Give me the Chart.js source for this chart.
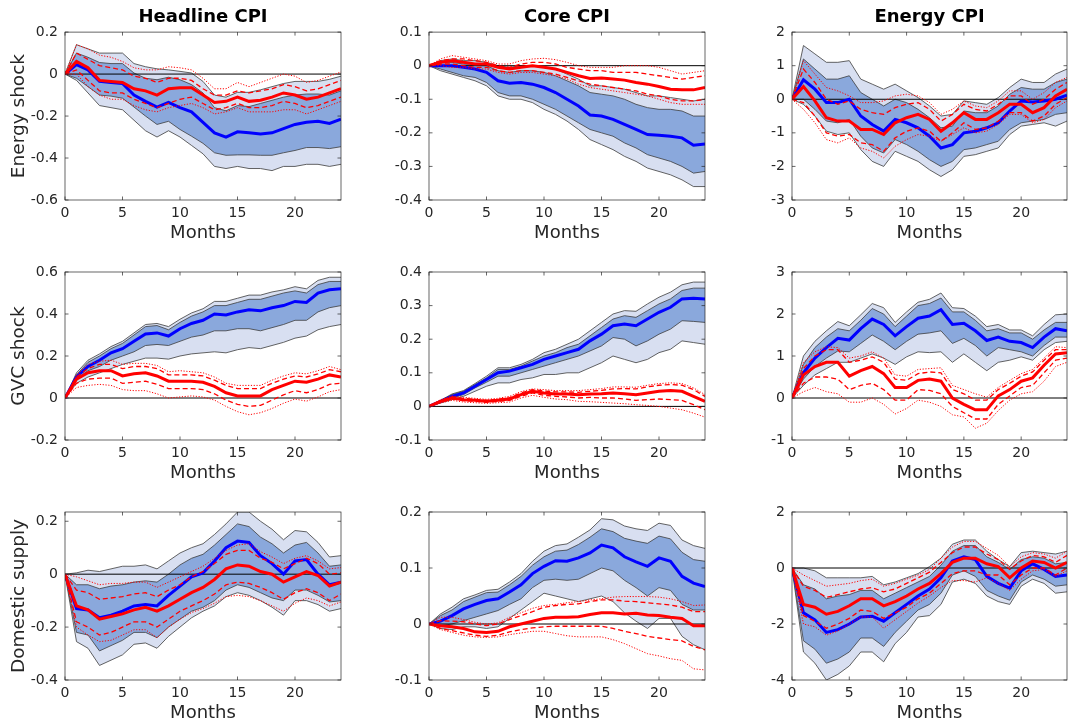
<!DOCTYPE html>
<html>
<head>
<meta charset="utf-8">
<script src="https://cdn.jsdelivr.net/npm/chart.js@4.4.0/dist/chart.umd.min.js"></script>
<style>
  html, body { margin: 0; padding: 0; background: #fff; }
  #wrap { position: relative; width: 1068px; height: 724px; overflow: hidden; }
  #wrap canvas { position: absolute; }
</style>
</head>
<body>
<div id="wrap"></div>
<script>
// Impulse responses, months 0..24
const months = [0,1,2,3,4,5,6,7,8,9,10,11,12,13,14,15,16,17,18,19,20,21,22,23,24];
const colTitles = ['Headline CPI', 'Core CPI', 'Energy CPI'];
const rowTitles = ['Energy shock', 'GVC shock', 'Domestic supply'];

// --- Energy shock / Headline CPI
const enHeadOutHi = [0,0.14,0.12,0.10,0.10,0.10,0.05,0.035,0.025,0.02,0.013,0.005,-0.035,-0.1,-0.11,-0.087,-0.087,-0.075,-0.06,-0.045,-0.035,-0.035,-0.035,-0.025,-0.01];
const enHeadInHi = [0,0.1,0.08,0.055,0.05,0.05,0.005,-0.02,-0.027,-0.015,-0.027,-0.05,-0.09,-0.16,-0.175,-0.15,-0.155,-0.14,-0.125,-0.11,-0.1,-0.095,-0.095,-0.1,-0.08];
const enHeadInLo = [0,-0.02,-0.06,-0.1,-0.105,-0.115,-0.157,-0.2,-0.24,-0.225,-0.264,-0.296,-0.33,-0.375,-0.387,-0.385,-0.385,-0.387,-0.387,-0.375,-0.364,-0.35,-0.35,-0.355,-0.346];
const enHeadOutLo = [0,-0.03,-0.09,-0.15,-0.16,-0.17,-0.22,-0.27,-0.3,-0.27,-0.3,-0.34,-0.38,-0.44,-0.45,-0.44,-0.45,-0.45,-0.46,-0.44,-0.44,-0.43,-0.43,-0.44,-0.43];
const enHeadBlue = [0,0.045,0.02,-0.035,-0.04,-0.045,-0.1,-0.13,-0.157,-0.135,-0.16,-0.18,-0.23,-0.28,-0.3,-0.275,-0.28,-0.285,-0.28,-0.26,-0.24,-0.23,-0.225,-0.235,-0.215];
const enHeadRed = [0,0.06,0.03,-0.03,-0.035,-0.04,-0.07,-0.08,-0.1,-0.07,-0.065,-0.065,-0.1,-0.135,-0.13,-0.11,-0.13,-0.125,-0.11,-0.09,-0.1,-0.12,-0.11,-0.09,-0.07];
const enHeadDashHi = [0,0.1,0.07,0.04,0.03,0.02,-0.01,-0.02,-0.04,-0.02,-0.02,-0.03,-0.07,-0.1,-0.1,-0.08,-0.09,-0.08,-0.07,-0.05,-0.06,-0.08,-0.07,-0.05,-0.03];
const enHeadDashLo = [0,0.02,-0.03,-0.08,-0.09,-0.09,-0.12,-0.14,-0.16,-0.14,-0.12,-0.11,-0.14,-0.17,-0.16,-0.14,-0.16,-0.16,-0.15,-0.13,-0.14,-0.16,-0.15,-0.13,-0.11];
const enHeadDotHi = [0,0.14,0.12,0.09,0.08,0.06,0.03,0.02,0.02,0.035,0.03,0.02,-0.02,-0.07,-0.07,-0.04,-0.06,-0.04,-0.02,0.0,-0.01,-0.04,-0.03,-0.01,0.01];
const enHeadDotLo = [0,0.0,-0.06,-0.1,-0.12,-0.12,-0.15,-0.17,-0.18,-0.16,-0.15,-0.14,-0.16,-0.19,-0.18,-0.16,-0.18,-0.18,-0.18,-0.17,-0.17,-0.19,-0.17,-0.15,-0.13];

// --- Energy shock / Core CPI
const enCoreOutHi = [0,0.015,0.02,0.015,0.015,0.01,0.0,-0.005,0.0,0.0,-0.005,-0.01,-0.025,-0.04,-0.06,-0.06,-0.065,-0.07,-0.08,-0.09,-0.09,-0.095,-0.1,-0.105,-0.1];
const enCoreInHi = [0,0.01,0.01,0.005,0.005,0.0,-0.015,-0.02,-0.015,-0.015,-0.02,-0.03,-0.045,-0.06,-0.08,-0.085,-0.09,-0.1,-0.115,-0.125,-0.13,-0.13,-0.135,-0.15,-0.15];
const enCoreInLo = [0,-0.01,-0.02,-0.03,-0.035,-0.05,-0.08,-0.09,-0.09,-0.1,-0.115,-0.13,-0.15,-0.17,-0.19,-0.2,-0.21,-0.23,-0.245,-0.265,-0.275,-0.285,-0.3,-0.32,-0.315];
const enCoreOutLo = [0,-0.015,-0.025,-0.035,-0.045,-0.06,-0.09,-0.1,-0.1,-0.11,-0.13,-0.145,-0.165,-0.19,-0.22,-0.235,-0.25,-0.27,-0.285,-0.305,-0.315,-0.325,-0.34,-0.36,-0.36];
const enCoreBlue = [0,0,0,-0.005,-0.01,-0.02,-0.045,-0.052,-0.05,-0.055,-0.065,-0.08,-0.1,-0.12,-0.147,-0.15,-0.16,-0.175,-0.19,-0.205,-0.207,-0.21,-0.215,-0.237,-0.233];
const enCoreRed = [0,0.01,0.015,0.01,0.005,0.005,-0.005,-0.01,-0.005,0.0,-0.005,-0.01,-0.02,-0.03,-0.038,-0.037,-0.04,-0.043,-0.05,-0.055,-0.062,-0.07,-0.072,-0.072,-0.065];
const enCoreDashHi = [0,0.015,0.02,0.02,0.015,0.01,0.0,-0.005,0.005,0.01,0.01,0.005,-0.005,-0.01,-0.015,-0.015,-0.02,-0.02,-0.02,-0.025,-0.03,-0.035,-0.04,-0.035,-0.03];
const enCoreDashLo = [0,0.005,0.005,0.0,-0.005,-0.005,-0.015,-0.02,-0.015,-0.015,-0.02,-0.025,-0.035,-0.045,-0.055,-0.06,-0.065,-0.07,-0.075,-0.085,-0.09,-0.1,-0.105,-0.105,-0.1];
const enCoreDotHi = [0,0.02,0.03,0.025,0.02,0.015,0.005,0.005,0.015,0.02,0.022,0.018,0.01,0.0,-0.005,-0.005,-0.005,0.0,0.0,0.0,-0.005,-0.015,-0.025,-0.02,-0.015];
const enCoreDotLo = [0,0.0,-0.005,-0.005,-0.01,-0.01,-0.02,-0.025,-0.02,-0.02,-0.025,-0.03,-0.04,-0.055,-0.065,-0.07,-0.075,-0.08,-0.085,-0.09,-0.1,-0.11,-0.115,-0.115,-0.115];

// --- Energy shock / Energy CPI
const enEnerOutHi = [0,1.6,1.35,1.1,1.1,1.15,0.6,0.45,0.3,0.45,0.25,0.05,-0.2,-0.5,-0.45,-0.05,-0.1,-0.15,0.05,0.35,0.6,0.5,0.5,0.75,0.9];
const enEnerInHi = [0,1.2,0.9,0.6,0.6,0.7,0.2,0.0,-0.2,0.0,-0.1,-0.3,-0.55,-0.85,-0.8,-0.35,-0.4,-0.4,-0.2,0.15,0.35,0.3,0.3,0.5,0.6];
const enEnerInLo = [0,0.0,-0.3,-0.65,-0.7,-0.6,-1.1,-1.45,-1.6,-1.2,-1.35,-1.55,-1.8,-2.0,-1.85,-1.5,-1.45,-1.35,-1.25,-0.9,-0.7,-0.65,-0.6,-0.45,-0.4];
const enEnerOutLo = [0,-0.15,-0.5,-0.95,-1.05,-1.0,-1.5,-1.85,-2.0,-1.55,-1.7,-1.85,-2.1,-2.3,-2.1,-1.7,-1.65,-1.55,-1.45,-1.05,-0.8,-0.75,-0.7,-0.8,-0.65];
const enEnerBlue = [0,0.58,0.3,-0.1,-0.1,0.0,-0.5,-0.75,-0.95,-0.6,-0.7,-0.85,-1.1,-1.45,-1.35,-1.0,-0.95,-0.85,-0.7,-0.35,-0.05,-0.08,-0.05,0.0,0.12];
const enEnerRed = [0,0.38,-0.05,-0.55,-0.65,-0.65,-0.9,-0.9,-1.05,-0.7,-0.55,-0.45,-0.6,-0.95,-0.7,-0.4,-0.6,-0.6,-0.4,-0.15,-0.15,-0.4,-0.25,0.1,0.3];
const enEnerDashHi = [0,0.9,0.5,0.0,-0.15,-0.05,-0.3,-0.4,-0.45,-0.25,-0.15,-0.1,-0.3,-0.65,-0.45,-0.15,-0.3,-0.35,-0.15,0.1,0.1,-0.15,0.0,0.3,0.5];
const enEnerDashLo = [0,-0.1,-0.5,-1.0,-1.1,-1.05,-1.3,-1.35,-1.55,-1.15,-0.95,-0.85,-0.95,-1.25,-1.0,-0.7,-0.9,-0.85,-0.65,-0.4,-0.4,-0.65,-0.5,-0.15,0.05];
const enEnerDotHi = [0,1.15,0.75,0.35,0.25,0.1,-0.1,-0.1,-0.05,0.1,0.15,0.1,-0.1,-0.45,-0.3,-0.05,-0.2,-0.25,-0.05,0.25,0.25,0.0,0.2,0.5,0.65];
const enEnerDotLo = [0,-0.3,-0.7,-1.2,-1.3,-1.15,-1.45,-1.55,-1.75,-1.4,-1.2,-1.05,-1.1,-1.25,-1.05,-0.85,-1.0,-0.95,-0.75,-0.45,-0.45,-0.7,-0.6,-0.25,-0.05];

// --- GVC shock / Headline CPI
const gvHeadOutHi = [0,0.12,0.18,0.21,0.245,0.27,0.31,0.35,0.355,0.34,0.375,0.405,0.425,0.46,0.46,0.475,0.49,0.49,0.505,0.515,0.53,0.52,0.56,0.575,0.575];
const gvHeadInHi = [0,0.11,0.17,0.2,0.235,0.26,0.3,0.34,0.345,0.325,0.36,0.39,0.41,0.44,0.44,0.455,0.47,0.47,0.485,0.5,0.51,0.5,0.54,0.555,0.555];
const gvHeadInLo = [0,0.09,0.13,0.15,0.18,0.2,0.22,0.25,0.255,0.25,0.27,0.29,0.3,0.32,0.32,0.33,0.33,0.32,0.335,0.35,0.37,0.37,0.41,0.43,0.44];
const gvHeadOutLo = [0,0.07,0.1,0.12,0.14,0.16,0.175,0.19,0.19,0.185,0.2,0.21,0.215,0.22,0.215,0.23,0.24,0.235,0.25,0.265,0.285,0.295,0.325,0.34,0.35];
const gvHeadBlue = [0,0.1,0.15,0.18,0.215,0.235,0.27,0.305,0.31,0.295,0.33,0.355,0.37,0.4,0.395,0.41,0.42,0.415,0.43,0.44,0.46,0.455,0.5,0.515,0.52];
const gvHeadRed = [0,0.09,0.12,0.13,0.13,0.105,0.115,0.12,0.105,0.08,0.08,0.08,0.075,0.055,0.025,0.01,0.01,0.01,0.04,0.06,0.08,0.075,0.09,0.11,0.1];
const gvHeadDashHi = [0,0.1,0.14,0.16,0.16,0.14,0.15,0.15,0.14,0.11,0.11,0.11,0.105,0.085,0.06,0.045,0.045,0.045,0.07,0.09,0.105,0.1,0.115,0.135,0.125];
const gvHeadDashLo = [0,0.07,0.09,0.095,0.095,0.07,0.075,0.08,0.065,0.045,0.045,0.045,0.04,0.02,-0.01,-0.03,-0.04,-0.035,-0.01,0.015,0.035,0.025,0.04,0.065,0.07];
const gvHeadDotHi = [0,0.11,0.16,0.175,0.18,0.16,0.165,0.165,0.155,0.125,0.13,0.125,0.12,0.1,0.07,0.06,0.06,0.06,0.085,0.105,0.12,0.115,0.13,0.15,0.135];
const gvHeadDotLo = [0,0.05,0.06,0.065,0.06,0.04,0.035,0.035,0.02,0.0,0.005,0.01,0.005,-0.01,-0.04,-0.065,-0.08,-0.07,-0.05,-0.025,-0.005,-0.015,0.005,0.03,0.04];

// --- GVC shock / Core CPI
const gvCoreOutHi = [0,0.018,0.037,0.047,0.068,0.09,0.115,0.115,0.125,0.14,0.16,0.17,0.185,0.2,0.225,0.25,0.275,0.285,0.283,0.305,0.325,0.34,0.362,0.37,0.37];
const gvCoreInHi = [0,0.017,0.035,0.045,0.065,0.085,0.11,0.11,0.12,0.135,0.15,0.16,0.175,0.185,0.21,0.235,0.26,0.27,0.265,0.285,0.305,0.32,0.345,0.352,0.352];
const gvCoreInLo = [0,0.012,0.025,0.035,0.055,0.072,0.09,0.09,0.1,0.11,0.12,0.13,0.14,0.15,0.165,0.18,0.205,0.2,0.18,0.195,0.215,0.23,0.255,0.253,0.25];
const gvCoreOutLo = [0,0.01,0.02,0.03,0.045,0.06,0.07,0.07,0.08,0.085,0.095,0.095,0.1,0.1,0.115,0.13,0.15,0.14,0.13,0.14,0.16,0.17,0.195,0.19,0.185];
const gvCoreBlue = [0,0.015,0.03,0.04,0.06,0.08,0.1,0.105,0.115,0.125,0.14,0.15,0.16,0.17,0.195,0.215,0.24,0.245,0.24,0.26,0.28,0.295,0.32,0.322,0.32];
const gvCoreRed = [0,0.015,0.025,0.02,0.018,0.015,0.018,0.022,0.035,0.045,0.04,0.037,0.037,0.035,0.037,0.038,0.04,0.038,0.035,0.04,0.045,0.047,0.045,0.03,0.015];
const gvCoreDashHi = [0,0.017,0.028,0.024,0.021,0.018,0.021,0.026,0.04,0.05,0.046,0.043,0.043,0.042,0.045,0.048,0.052,0.053,0.052,0.058,0.063,0.065,0.063,0.05,0.03];
const gvCoreDashLo = [0,0.012,0.022,0.017,0.015,0.012,0.015,0.018,0.03,0.04,0.033,0.03,0.028,0.025,0.027,0.025,0.025,0.022,0.018,0.02,0.022,0.02,0.018,0.005,-0.01];
const gvCoreDotHi = [0,0.02,0.031,0.027,0.024,0.021,0.024,0.03,0.044,0.052,0.05,0.047,0.047,0.047,0.05,0.053,0.058,0.058,0.057,0.063,0.068,0.07,0.068,0.055,0.035];
const gvCoreDotLo = [0,0.01,0.018,0.013,0.011,0.009,0.011,0.013,0.025,0.033,0.027,0.022,0.02,0.015,0.014,0.012,0.01,0.008,0.005,0.003,0.0,-0.005,-0.01,-0.02,-0.032];

// --- GVC shock / Energy CPI
const gvEnerOutHi = [0,1.0,1.35,1.6,1.82,1.72,1.98,2.25,2.15,1.8,2.05,2.28,2.35,2.5,2.15,2.13,1.95,1.7,1.75,1.62,1.62,1.48,1.75,1.98,2.0];
const gvEnerInHi = [0,0.8,1.2,1.45,1.65,1.6,1.85,2.13,2.0,1.7,1.95,2.2,2.25,2.38,2.05,2.05,1.85,1.6,1.65,1.55,1.55,1.4,1.62,1.8,1.8];
const gvEnerInLo = [0,0.45,0.75,0.95,1.12,1.1,1.3,1.5,1.35,1.15,1.35,1.52,1.55,1.6,1.3,1.42,1.25,1.0,1.2,1.15,1.1,1.0,1.25,1.45,1.45];
const gvEnerOutLo = [0,0.3,0.55,0.7,0.85,0.85,0.95,1.05,0.95,0.8,0.98,1.1,1.08,1.1,0.85,1.05,0.85,0.65,0.85,0.9,0.98,0.9,1.15,1.32,1.35];
const gvEnerBlue = [0,0.6,0.95,1.2,1.42,1.38,1.65,1.88,1.75,1.48,1.7,1.9,1.95,2.1,1.75,1.78,1.6,1.37,1.45,1.35,1.32,1.2,1.45,1.65,1.6];
const gvEnerRed = [0,0.55,0.75,0.85,0.85,0.52,0.65,0.75,0.58,0.25,0.25,0.42,0.45,0.4,0.0,-0.15,-0.28,-0.28,0.05,0.2,0.4,0.48,0.78,1.05,1.08];
const gvEnerDashHi = [0,0.7,1.0,1.15,1.15,0.85,0.9,0.98,0.85,0.45,0.42,0.58,0.62,0.6,0.2,0.1,-0.05,-0.05,0.2,0.35,0.52,0.62,0.9,1.15,1.15];
const gvEnerDashLo = [0,0.35,0.5,0.5,0.45,0.2,0.3,0.35,0.2,-0.05,-0.05,0.2,0.18,0.1,-0.2,-0.35,-0.5,-0.5,-0.15,0.05,0.25,0.3,0.6,0.9,0.95];
const gvEnerDotHi = [0,0.85,1.1,1.22,1.2,0.95,1.0,1.1,0.95,0.55,0.52,0.68,0.7,0.72,0.3,0.2,0.1,0.02,0.25,0.42,0.58,0.68,0.95,1.22,1.2];
const gvEnerDotLo = [0,0.15,0.25,0.15,0.1,-0.1,-0.1,0.0,-0.15,-0.38,-0.25,-0.05,-0.1,-0.2,-0.4,-0.45,-0.72,-0.6,-0.3,-0.05,0.1,0.15,0.4,0.75,0.85];

// --- Domestic supply / Headline CPI
const dsHeadOutHi = [0,0.005,0.015,0.01,0.02,0.03,0.03,0.035,0.02,0.05,0.08,0.1,0.115,0.15,0.19,0.235,0.235,0.2,0.17,0.13,0.165,0.16,0.12,0.065,0.07];
const dsHeadInHi = [0,-0.04,-0.04,-0.055,-0.045,-0.04,-0.03,-0.025,-0.03,0.0,0.035,0.06,0.075,0.11,0.15,0.19,0.18,0.14,0.115,0.08,0.11,0.12,0.08,0.03,0.035];
const dsHeadInLo = [0,-0.22,-0.23,-0.29,-0.27,-0.25,-0.22,-0.22,-0.24,-0.2,-0.17,-0.14,-0.125,-0.1,-0.06,-0.04,-0.05,-0.07,-0.09,-0.1,-0.06,-0.06,-0.08,-0.105,-0.1];
const dsHeadOutLo = [0,-0.255,-0.28,-0.345,-0.325,-0.305,-0.265,-0.26,-0.28,-0.235,-0.2,-0.165,-0.14,-0.12,-0.085,-0.07,-0.08,-0.1,-0.125,-0.155,-0.1,-0.1,-0.115,-0.14,-0.13];
const dsHeadBlue = [0,-0.13,-0.135,-0.165,-0.155,-0.14,-0.12,-0.115,-0.12,-0.08,-0.045,-0.01,0.005,0.05,0.1,0.125,0.12,0.07,0.04,0.0,0.05,0.055,0.0,-0.04,-0.03];
const dsHeadRed = [0,-0.12,-0.135,-0.17,-0.16,-0.15,-0.135,-0.125,-0.14,-0.12,-0.095,-0.07,-0.05,-0.02,0.02,0.035,0.03,0.01,0.0,-0.03,-0.01,0.01,-0.005,-0.045,-0.03];
const dsHeadDashHi = [0,-0.06,-0.07,-0.095,-0.09,-0.085,-0.075,-0.07,-0.085,-0.06,-0.04,-0.01,0.01,0.04,0.075,0.09,0.09,0.06,0.045,0.02,0.04,0.06,0.04,0.0,0.005];
const dsHeadDashLo = [0,-0.18,-0.2,-0.23,-0.22,-0.2,-0.18,-0.18,-0.2,-0.17,-0.14,-0.12,-0.1,-0.075,-0.04,-0.03,-0.035,-0.05,-0.07,-0.095,-0.07,-0.055,-0.07,-0.1,-0.075];
const dsHeadDotHi = [0,-0.01,-0.025,-0.04,-0.035,-0.035,-0.03,-0.03,-0.05,-0.03,-0.01,0.01,0.03,0.06,0.09,0.11,0.115,0.085,0.065,0.04,0.06,0.07,0.05,0.02,0.025];
const dsHeadDotLo = [0,-0.2,-0.23,-0.255,-0.25,-0.23,-0.21,-0.21,-0.24,-0.2,-0.17,-0.145,-0.13,-0.11,-0.085,-0.08,-0.085,-0.1,-0.12,-0.14,-0.11,-0.09,-0.1,-0.12,-0.105];

// --- Domestic supply / Core CPI
const dsCoreOutHi = [0,0.018,0.03,0.045,0.052,0.06,0.062,0.075,0.09,0.112,0.13,0.14,0.143,0.155,0.168,0.188,0.186,0.175,0.17,0.167,0.18,0.176,0.15,0.14,0.135];
const dsCoreInHi = [0,0.015,0.025,0.04,0.048,0.056,0.057,0.07,0.085,0.105,0.12,0.13,0.132,0.142,0.155,0.17,0.165,0.153,0.148,0.144,0.157,0.152,0.128,0.115,0.112];
const dsCoreInLo = [0,-0.003,0.0,0.006,0.012,0.018,0.024,0.035,0.045,0.065,0.078,0.08,0.078,0.08,0.09,0.1,0.095,0.078,0.065,0.05,0.065,0.06,0.035,0.025,0.025];
const dsCoreOutLo = [0,-0.008,-0.01,-0.005,-0.005,-0.008,-0.005,0.01,0.025,0.04,0.055,0.05,0.045,0.04,0.045,0.05,0.04,0.02,0.005,-0.008,0.01,0.01,-0.022,-0.037,-0.046];
const dsCoreBlue = [0,0.005,0.015,0.027,0.035,0.042,0.045,0.057,0.07,0.09,0.103,0.113,0.112,0.118,0.127,0.141,0.136,0.12,0.111,0.103,0.118,0.112,0.085,0.073,0.067];
const dsCoreRed = [0,-0.003,-0.005,-0.008,-0.014,-0.015,-0.013,-0.005,0.0,0.005,0.01,0.012,0.012,0.013,0.017,0.02,0.02,0.018,0.019,0.016,0.015,0.012,0.01,-0.003,-0.003];
const dsCoreDashHi = [0,0.006,0.005,0.004,0.0,-0.003,0.0,0.008,0.015,0.022,0.03,0.033,0.035,0.036,0.04,0.043,0.043,0.041,0.04,0.038,0.036,0.034,0.03,0.022,0.022];
const dsCoreDashLo = [0,-0.008,-0.012,-0.016,-0.02,-0.022,-0.02,-0.014,-0.01,-0.007,-0.005,-0.004,-0.004,-0.004,-0.004,-0.004,-0.008,-0.013,-0.017,-0.022,-0.025,-0.028,-0.03,-0.04,-0.046];
const dsCoreDotHi = [0,0.012,0.012,0.008,0.003,0.0,0.002,0.012,0.02,0.028,0.033,0.035,0.038,0.04,0.043,0.045,0.048,0.049,0.049,0.049,0.048,0.045,0.04,0.033,0.034];
const dsCoreDotLo = [0,-0.01,-0.015,-0.02,-0.023,-0.024,-0.023,-0.019,-0.016,-0.013,-0.013,-0.017,-0.021,-0.023,-0.023,-0.023,-0.028,-0.035,-0.044,-0.053,-0.057,-0.062,-0.065,-0.08,-0.082];

// --- Domestic supply / Energy CPI
const dsEnerOutHi = [0,0.0,-0.1,-0.35,-0.35,-0.35,-0.35,-0.3,-0.6,-0.5,-0.35,-0.2,0.05,0.35,0.85,1.0,1.0,0.6,0.3,0.05,0.55,0.6,0.55,0.5,0.6];
const dsEnerInHi = [0,-0.6,-0.75,-1.1,-1.0,-0.95,-0.8,-0.8,-1.1,-0.9,-0.7,-0.5,-0.3,0.1,0.6,0.8,0.8,0.4,0.2,-0.05,0.3,0.4,0.35,0.15,0.2];
const dsEnerInLo = [0,-2.6,-2.9,-3.4,-3.25,-3.0,-2.5,-2.5,-2.8,-2.3,-1.9,-1.5,-1.3,-0.9,-0.25,-0.1,-0.3,-0.8,-1.0,-1.15,-0.5,-0.25,-0.4,-0.65,-0.6];
const dsEnerOutLo = [0,-3.0,-3.4,-4.0,-3.8,-3.5,-3.0,-3.0,-3.35,-2.7,-2.3,-1.75,-1.7,-1.3,-0.5,-0.4,-0.55,-1.0,-1.2,-1.3,-0.65,-0.4,-0.55,-0.9,-0.85];
const dsEnerBlue = [0,-1.6,-1.85,-2.3,-2.2,-2.0,-1.75,-1.72,-1.9,-1.6,-1.3,-1.0,-0.75,-0.35,0.25,0.4,0.3,-0.3,-0.55,-0.72,-0.1,0.15,-0.05,-0.3,-0.25];
const dsEnerRed = [0,-1.3,-1.4,-1.65,-1.55,-1.35,-1.1,-1.1,-1.35,-1.2,-1.0,-0.75,-0.55,-0.2,0.2,0.35,0.35,0.15,0.05,-0.35,0.0,0.25,0.2,0.0,0.2];
const dsEnerDashHi = [0,-0.65,-0.8,-1.05,-0.95,-0.85,-0.75,-0.7,-0.85,-0.75,-0.55,-0.35,-0.15,0.2,0.55,0.75,0.75,0.5,0.3,-0.05,0.25,0.45,0.4,0.2,0.45];
const dsEnerDashLo = [0,-1.7,-1.9,-2.15,-2.0,-1.8,-1.5,-1.55,-1.8,-1.6,-1.4,-1.1,-0.9,-0.55,-0.2,-0.1,-0.1,-0.25,-0.25,-0.6,-0.25,0.0,0.0,-0.25,0.0];
const dsEnerDotHi = [0,-0.25,-0.45,-0.65,-0.6,-0.55,-0.45,-0.4,-0.65,-0.55,-0.4,-0.25,-0.05,0.35,0.75,0.95,0.95,0.7,0.45,0.05,0.4,0.55,0.5,0.35,0.6];
const dsEnerDotLo = [0,-2.0,-2.1,-2.4,-2.25,-2.0,-1.75,-1.75,-2.15,-1.85,-1.55,-1.25,-1.0,-0.7,-0.45,-0.45,-0.5,-0.35,-0.55,-0.8,-0.4,-0.1,-0.05,-0.3,-0.1];

// y-axis limits per panel (row-major)
const yMins = [-0.6, -0.4, -3, -0.2, -0.1, -1, -0.4, -0.1, -4];
const yMaxs = [0.2, 0.1, 2, 0.6, 0.4, 3, 0.235, 0.2, 2];
const ySteps = [0.2, 0.1, 1, 0.2, 0.1, 1, 0.2, 0.1, 2];

const panelSeries = [
  [enHeadOutHi, enHeadOutLo, enHeadInHi, enHeadInLo, enHeadBlue, enHeadDotHi, enHeadDotLo, enHeadDashHi, enHeadDashLo, enHeadRed],
  [enCoreOutHi, enCoreOutLo, enCoreInHi, enCoreInLo, enCoreBlue, enCoreDotHi, enCoreDotLo, enCoreDashHi, enCoreDashLo, enCoreRed],
  [enEnerOutHi, enEnerOutLo, enEnerInHi, enEnerInLo, enEnerBlue, enEnerDotHi, enEnerDotLo, enEnerDashHi, enEnerDashLo, enEnerRed],
  [gvHeadOutHi, gvHeadOutLo, gvHeadInHi, gvHeadInLo, gvHeadBlue, gvHeadDotHi, gvHeadDotLo, gvHeadDashHi, gvHeadDashLo, gvHeadRed],
  [gvCoreOutHi, gvCoreOutLo, gvCoreInHi, gvCoreInLo, gvCoreBlue, gvCoreDotHi, gvCoreDotLo, gvCoreDashHi, gvCoreDashLo, gvCoreRed],
  [gvEnerOutHi, gvEnerOutLo, gvEnerInHi, gvEnerInLo, gvEnerBlue, gvEnerDotHi, gvEnerDotLo, gvEnerDashHi, gvEnerDashLo, gvEnerRed],
  [dsHeadOutHi, dsHeadOutLo, dsHeadInHi, dsHeadInLo, dsHeadBlue, dsHeadDotHi, dsHeadDotLo, dsHeadDashHi, dsHeadDashLo, dsHeadRed],
  [dsCoreOutHi, dsCoreOutLo, dsCoreInHi, dsCoreInLo, dsCoreBlue, dsCoreDotHi, dsCoreDotLo, dsCoreDashHi, dsCoreDashLo, dsCoreRed],
  [dsEnerOutHi, dsEnerOutLo, dsEnerInHi, dsEnerInLo, dsEnerBlue, dsEnerDotHi, dsEnerDotLo, dsEnerDashHi, dsEnerDashLo, dsEnerRed],
];

// layout (pixels)
const FONT = "'DejaVu Sans', sans-serif";
const INK = '#262626';
const colLeft = [0, 364, 727];
const colWidth = [343, 343, 341];
const rowTop = [0, 240, 480];
const CANVAS_H = 244;
const Y_AXIS_W = 65;
const X_AXIS_H = 44;
const TOP_PAD = 32;

// MATLAB-like box, inward ticks and the zero line
const framePlugin = {
  id: 'frame',
  afterDatasetDraw(chart, args) {
    if (args.index !== 3) return; // after the inner band is painted
    const { ctx, chartArea: a, scales: { y } } = chart;
    const y0 = y.getPixelForValue(0);
    ctx.save();
    ctx.strokeStyle = '#000';
    ctx.lineWidth = 1;
    ctx.beginPath();
    ctx.moveTo(a.left, y0);
    ctx.lineTo(a.right, y0);
    ctx.stroke();
    ctx.restore();
  },
  afterDraw(chart) {
    const { ctx, chartArea: a, scales: { x, y } } = chart;
    ctx.save();
    ctx.strokeStyle = INK;
    ctx.lineWidth = 0.7;
    ctx.strokeRect(a.left, a.top, a.right - a.left, a.bottom - a.top);
    ctx.beginPath();
    x.ticks.forEach(t => {
      const px = x.getPixelForValue(t.value);
      ctx.moveTo(px, a.bottom); ctx.lineTo(px, a.bottom - 3.5);
      ctx.moveTo(px, a.top); ctx.lineTo(px, a.top + 3.5);
    });
    y.ticks.forEach(t => {
      const py = y.getPixelForValue(t.value);
      ctx.moveTo(a.left, py); ctx.lineTo(a.left + 3.5, py);
      ctx.moveTo(a.right, py); ctx.lineTo(a.right - 3.5, py);
    });
    ctx.stroke();
    ctx.restore();
  }
};

const pts = vals => vals.map((v, i) => ({ x: months[i], y: v }));

function line(vals, color, width, dash, order, fill, bg) {
  return {
    data: pts(vals),
    borderColor: color,
    borderWidth: width,
    borderDash: dash,
    backgroundColor: bg || 'transparent',
    fill: fill || false,
    order,
    pointRadius: 0,
    tension: 0,
  };
}

const wrap = document.getElementById('wrap');

panelSeries.forEach((s, p) => {
  const row = Math.floor(p / 3), col = p % 3;
  const cv = document.createElement('canvas');
  cv.width = colWidth[col];
  cv.height = CANVAS_H;
  cv.style.left = colLeft[col] + 'px';
  cv.style.top = rowTop[row] + 'px';
  cv.style.width = colWidth[col] + 'px';
  cv.style.height = CANVAS_H + 'px';
  wrap.appendChild(cv);

  const edge = '#3c3c3c';
  const datasets = [
    line(s[0], edge, 0.8, [], 9, '+1', '#d8dff1'),
    line(s[1], edge, 0.8, [], 8),
    line(s[2], edge, 0.8, [], 7, '+1', '#8aa8dc'),
    line(s[3], edge, 0.8, [], 6),
    line(s[4], '#0000ff', 3, [], 5),
    line(s[5], '#ff0000', 1, [1.2, 1.6], 4),
    line(s[6], '#ff0000', 1, [1.2, 1.6], 3),
    line(s[7], '#ff0000', 1.3, [5, 3], 2),
    line(s[8], '#ff0000', 1.3, [5, 3], 1),
    line(s[9], '#ff0000', 3, [], 0),
  ];

  new Chart(cv, {
    type: 'line',
    data: { datasets },
    plugins: [framePlugin],
    options: {
      responsive: false,
      animation: false,
      events: [],
      layout: { autoPadding: false, padding: { top: row === 0 ? 0 : TOP_PAD, right: col === 2 ? 1 : 2, left: 0, bottom: 0 } },
      plugins: {
        legend: { display: false },
        tooltip: { enabled: false },
        title: {
          display: row === 0,
          fullSize: false,
          text: colTitles[col],
          color: '#000',
          font: { family: FONT, size: 18, weight: 'bold' },
          padding: { top: 6.5, bottom: 4 },
        },
      },
      scales: {
        x: {
          type: 'linear',
          min: 0,
          max: 24,
          grid: { display: false, drawTicks: false },
          border: { display: false },
          ticks: { stepSize: 5, includeBounds: false, padding: 5, color: INK, font: { family: FONT, size: 14 }, maxRotation: 0 },
          title: { display: true, text: 'Months', color: INK, font: { family: FONT, size: 18 }, padding: { top: 0, bottom: 0 } },
          afterFit: sc => { sc.height = X_AXIS_H; },
        },
        y: {
          min: yMins[p],
          max: yMaxs[p],
          grid: { display: false, drawTicks: false },
          border: { display: false },
          ticks: {
            stepSize: ySteps[p],
            includeBounds: false,
            padding: 7,
            color: INK,
            font: { family: FONT, size: 14 },
            callback: v => String(Number(v.toFixed(2))),
          },
          title: { display: col === 0, text: rowTitles[row], color: INK, font: { family: FONT, size: 18.5 }, padding: { top: 8.5, bottom: 0 } },
          afterFit: sc => { sc.width = Y_AXIS_W; },
        },
      },
    },
  });
});
</script>
</body>
</html>
